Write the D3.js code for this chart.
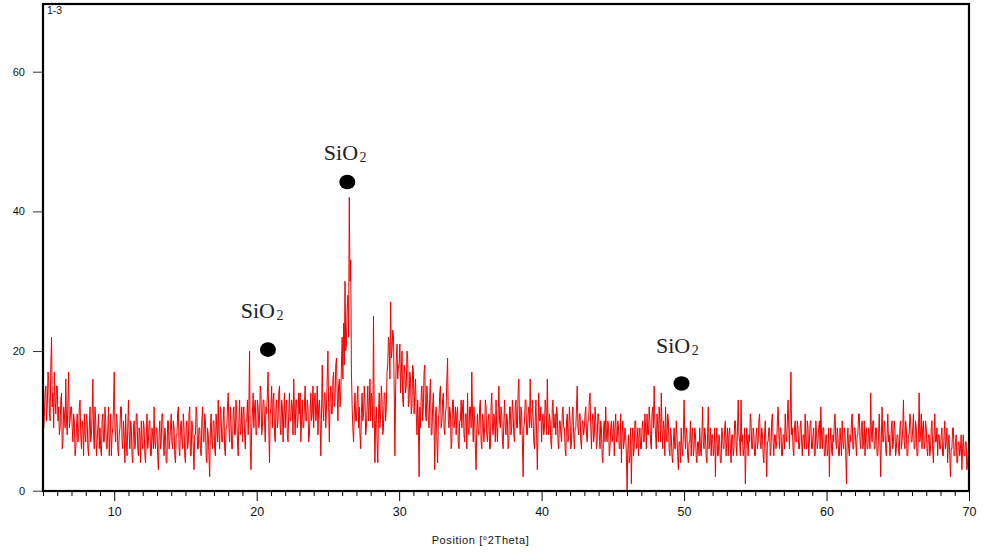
<!DOCTYPE html>
<html>
<head>
<meta charset="utf-8">
<script src="https://cdn.jsdelivr.net/npm/d3@7"></script>
<style>
  html, body { margin: 0; padding: 0; background: #fff; }
  svg { display: block; }
</style>
</head>
<body>
<svg id="chart" width="985" height="552"></svg>
<script>
// ---- data ----
const angleStart = 5.0;      // °2Theta of first sample
const angleStep = 0.05;      // °2Theta step between samples
const intensity = [
  13,9,11,14,15,10,12,17,16,11,10,18,22,12,14,9,17,13,11,15,
  15,10,12,8,9,13,14,6,7,12,11,9,16,10,8,13,17,9,10,12,
  12,9,7,11,10,5,6,9,11,7,8,12,13,8,6,10,9,5,11,8,
  7,11,10,6,5,9,12,7,8,11,16,8,6,12,10,5,7,9,11,6,
  9,6,5,10,11,7,7,12,10,6,6,9,12,5,8,11,5,8,9,12,
  17,9,7,11,10,6,5,8,9,12,12,7,6,10,8,4,11,7,5,9,
  13,8,6,10,9,5,4,9,10,6,7,11,11,6,5,9,8,4,10,7,
  6,10,9,5,4,8,11,6,7,10,10,5,5,9,8,6,12,7,6,9,
  9,5,3,8,10,6,7,11,11,7,5,9,8,4,4,10,10,6,7,9,
  11,7,6,10,9,5,4,8,8,11,12,6,5,9,10,7,6,11,9,5,
  4,9,10,6,7,11,12,5,5,10,9,6,3,8,8,12,11,6,6,9,
  9,6,5,10,12,7,7,11,10,5,4,9,8,5,2,9,11,7,6,10,
  10,6,5,11,9,7,13,8,6,12,11,7,7,10,12,6,5,9,9,12,
  14,9,7,12,10,6,6,11,12,8,8,13,11,7,5,10,13,8,9,12,
  7,11,12,8,6,10,10,13,8,12,20,6,3,9,11,14,9,12,13,8,
  8,13,12,9,10,15,14,8,9,13,13,10,7,12,11,14,17,9,4,11,
  12,15,9,13,14,8,7,12,13,9,10,14,15,9,8,13,12,7,11,14,
  9,12,13,8,7,11,14,10,10,13,12,8,16,11,8,13,13,9,10,14,
  11,14,7,10,13,9,9,12,15,10,10,13,12,7,8,11,14,10,11,15,
  9,13,14,10,11,15,8,12,13,10,5,11,18,12,10,14,14,9,12,16,
  20,12,7,13,15,11,11,16,17,12,13,18,19,14,10,15,16,12,14,18,
  22,16,24,18,30,20,21,26,28,22,42,30,33,17,12,9,7,11,14,10,
  10,13,15,9,12,8,6,11,14,10,11,15,13,8,9,12,15,10,12,16,
  10,14,13,9,25,11,4,10,12,7,4,11,14,9,11,15,13,8,9,14,
  14,10,12,17,18,22,21,16,27,19,20,23,22,15,5,14,19,21,16,18,
  18,21,14,17,20,13,12,18,17,14,15,20,19,12,13,17,16,11,12,18,
  17,11,14,16,11,8,13,10,2,12,9,14,15,10,12,17,18,11,10,15,
  13,10,9,14,16,8,8,12,14,9,3,11,12,7,4,10,11,14,15,9,
  10,13,14,9,8,11,12,16,19,10,9,12,11,6,7,13,13,9,10,12,
  8,11,12,7,6,10,10,13,9,12,13,8,7,11,11,6,14,9,8,12,
  12,9,17,11,7,12,10,6,3,9,11,8,8,12,13,7,6,11,10,7,
  9,13,12,8,7,10,11,6,6,12,14,9,8,11,10,7,13,9,7,11,
  15,10,9,12,11,7,6,10,13,9,8,11,10,6,7,12,12,8,9,13,
  11,8,7,12,13,9,9,14,16,10,8,12,11,7,2,9,10,13,13,8,
  8,11,12,9,16,10,9,13,11,7,6,10,13,8,3,9,14,10,10,12,
  7,10,11,8,9,13,12,8,16,10,8,11,10,7,6,12,13,9,9,11,
  8,12,11,7,6,10,10,8,7,11,12,9,9,6,5,10,11,7,8,12,
  10,6,7,11,12,8,6,9,9,12,15,9,8,11,11,7,6,10,10,8,
  9,11,12,8,7,10,10,13,14,9,6,10,11,7,8,12,10,6,7,11,
  11,8,6,10,9,5,4,9,10,7,12,8,7,10,9,5,6,9,10,7,
  8,10,5,9,11,7,7,10,9,6,6,11,4,8,10,6,7,9,8,5,
  0,6,8,4,5,9,1,7,9,5,6,10,10,6,7,9,5,8,9,6,
  6,9,10,7,7,11,9,6,11,8,8,12,10,7,6,11,12,9,15,10,
  8,6,11,9,7,12,10,7,14,9,6,10,9,5,12,8,7,11,10,6,
  5,9,8,5,4,7,9,6,6,10,8,5,3,7,7,4,9,6,5,8,
  13,8,6,9,8,5,4,7,7,10,5,8,9,5,6,9,8,5,4,7,
  7,5,9,6,5,8,12,7,6,9,8,5,4,8,12,6,7,9,5,8,
  8,5,6,9,2,7,9,5,5,8,7,4,4,9,8,6,6,9,10,5,
  7,9,5,8,9,6,4,8,8,5,6,10,10,7,5,9,13,8,7,5,
  13,7,8,5,6,9,1,6,9,7,5,8,7,11,10,6,6,9,8,5,
  5,8,9,6,7,10,11,7,6,9,8,5,4,8,10,6,2,7,7,9,
  9,5,6,10,11,7,5,8,8,6,7,10,12,8,6,9,9,5,5,8,
  8,6,11,8,7,10,13,9,6,11,17,8,9,6,5,9,10,7,7,10,
  9,6,6,9,10,7,5,8,8,6,11,7,6,10,9,5,7,10,10,6,
  6,8,9,5,5,10,8,6,7,9,10,6,12,8,6,9,9,5,5,8,
  8,5,6,9,2,7,9,6,5,8,7,10,11,7,6,9,8,5,5,9,
  7,5,10,7,6,9,8,5,1,7,9,6,5,8,7,10,11,6,6,9,
  9,7,5,8,8,11,11,7,6,9,10,6,7,10,5,8,9,6,6,9,
  8,6,14,8,7,10,10,6,6,9,9,5,5,8,11,7,2,8,12,7,
  7,10,9,6,5,8,11,7,8,5,6,9,10,6,7,10,9,5,6,8,
  8,6,5,9,10,6,7,9,13,7,6,10,9,5,5,8,8,11,10,7,
  7,9,11,6,6,10,9,5,5,8,14,7,8,11,6,9,10,6,7,10,
  9,6,5,8,8,5,6,9,10,6,4,8,11,7,7,9,5,8,8,6,
  6,8,9,5,5,8,10,6,7,9,4,7,8,5,2,6,6,9,9,5,
  5,7,8,4,4,7,7,5,6,8,3,6,8,5,5,7,7,3,4,6,
  7
];

const xTickValues = [10, 20, 30, 40, 50, 60, 70];
const yTickValues = [0, 20, 40, 60];
const peakAngles = [20.79, 26.36, 49.82];
const peakMarkY = [20.2, 44.2, 15.35];
const peakLabel = ["SiO", "SiO", "SiO"];
const peakLabelSub = ["2", "2", "2"];
const labelAngles = [20.38, 26.21, 49.53];
const labelY = [24.8, 47.3, 19.7];
const sampleName = "1-3";
const xTitle = "Position [°2Theta]";

// ---- layout ----
const pLeft = 43, pRight = 969, pTop = 4, pBottom = 491;
const svg = d3.select("#chart");

const x = d3.scaleLinear().domain([5, 70]).range([pLeft, pRight]);
const y = d3.scaleLinear().domain([0, 60]).range([490.7, 71.7]);

const points = intensity.map((v, i) => [angleStart + i * angleStep, v]);

svg.append("defs").append("clipPath").attr("id", "plotclip")
  .append("rect").attr("x", pLeft).attr("y", pTop).attr("width", pRight - pLeft).attr("height", pBottom - pTop);

// data line
const line = d3.line().x(d => x(d[0])).y(d => y(d[1]));
svg.append("path")
  .datum(points)
  .attr("clip-path", "url(#plotclip)")
  .attr("d", line)
  .attr("fill", "none")
  .attr("stroke", "#f00000")
  .attr("stroke-width", 1);

// x axis: minor ticks every 1°
const minor = d3.range(5, 71, 1).filter(v => !xTickValues.includes(v));
const xMinorAxis = d3.axisBottom(x).tickValues(minor).tickSize(5).tickFormat("");
const gxm = svg.append("g").attr("transform", `translate(0,${pBottom})`).call(xMinorAxis);
gxm.select(".domain").remove();
gxm.selectAll("line").attr("stroke", "#000");

const xAxis = d3.axisBottom(x).tickValues(xTickValues).tickSize(10).tickPadding(6).tickFormat(d3.format("d"));
const gx = svg.append("g").attr("transform", `translate(0,${pBottom})`).call(xAxis);
gx.select(".domain").remove();
gx.selectAll("line").attr("stroke", "#000");
gx.selectAll("text")
  .attr("font-family", "'Liberation Sans', Arial, sans-serif")
  .attr("font-size", 12.5)
  .attr("fill", "#111")
  .attr("dy", "0.71em");

// y axis
const yAxis = d3.axisLeft(y).tickValues(yTickValues).tickSize(10).tickPadding(8).tickFormat(d3.format("d"));
const gy = svg.append("g").attr("transform", `translate(${pLeft},0)`).call(yAxis);
gy.select(".domain").remove();
gy.selectAll("line").attr("stroke", "#333");
gy.selectAll("text")
  .attr("font-family", "'Liberation Sans', Arial, sans-serif")
  .attr("font-size", 11)
  .attr("fill", "#111");

// frame
svg.append("rect")
  .attr("x", pLeft).attr("y", pTop)
  .attr("width", pRight - pLeft).attr("height", pBottom - pTop)
  .attr("fill", "none").attr("stroke", "#000").attr("stroke-width", 2.2);

// sample name
svg.append("text")
  .attr("x", 47).attr("y", 13.5)
  .attr("font-family", "'Liberation Sans', Arial, sans-serif")
  .attr("font-size", 10.5)
  .attr("fill", "#111")
  .text(sampleName);

// axis title
svg.append("text")
  .attr("x", 480.5).attr("y", 544)
  .attr("text-anchor", "middle")
  .attr("font-family", "'Liberation Sans', Arial, sans-serif")
  .attr("font-size", 11)
  .attr("letter-spacing", 0.6)
  .attr("fill", "#111")
  .text(xTitle);

// peak markers
svg.append("g").selectAll("ellipse")
  .data(peakAngles)
  .join("ellipse")
  .attr("cx", (d) => x(d))
  .attr("cy", (d, i) => y(peakMarkY[i]))
  .attr("rx", 8).attr("ry", 7.3)
  .attr("fill", "#000");

// peak labels
const lbl = svg.append("g").selectAll("text")
  .data(labelAngles)
  .join("text")
  .attr("x", d => x(d))
  .attr("y", (d, i) => y(labelY[i]))
  .attr("text-anchor", "middle")
  .attr("font-family", "'Liberation Serif', 'Times New Roman', serif")
  .attr("font-size", 22)
  .attr("fill", "#222");
lbl.append("tspan").text((d, i) => peakLabel[i]);
lbl.append("tspan")
  .attr("dx", 1.5).attr("dy", 2)
  .attr("font-size", 14)
  .text((d, i) => peakLabelSub[i]);
</script>
</body>
</html>
